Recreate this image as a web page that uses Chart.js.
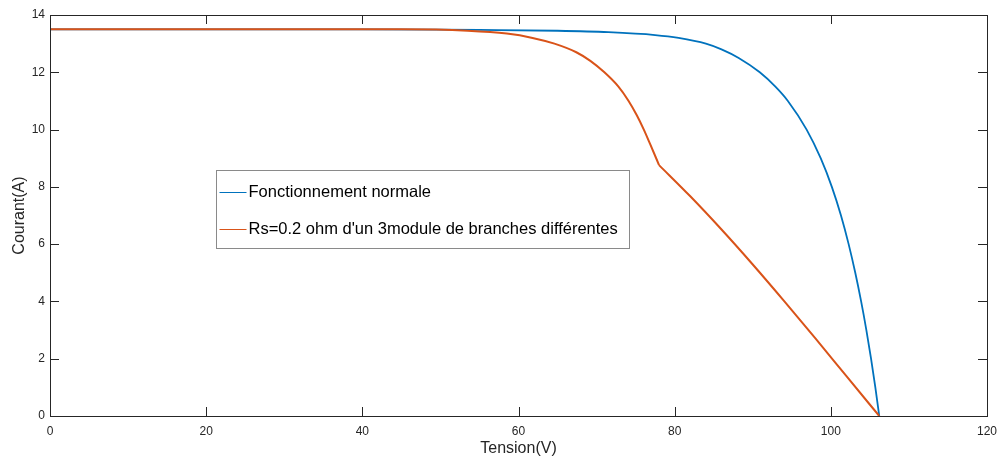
<!DOCTYPE html>
<html>
<head>
<meta charset="utf-8">
<script src="https://cdn.jsdelivr.net/npm/chart.js@4.4.1/dist/chart.umd.min.js"></script>
<style>
  html, body { margin: 0; padding: 0; background: #fff; }
</style>
</head>
<body>
<canvas id="ivChart" width="998" height="458"></canvas>
<script>
// I-V curves of the PV array: normal operation vs one module with Rs = 0.2 ohm
const normalVolts = [0, 20, 40, 50, 55, 65, 71.5, 77.5, 80.5, 84, 86, 88.2, 90.9, 92.9, 94.5, 96.9, 98.7, 100.13, 101.3, 102.28, 103.13, 103.88, 104.55, 105.15, 105.7, 106.2];
const normalAmps  = [13.5, 13.5, 13.5, 13.49, 13.48, 13.45, 13.4, 13.3, 13.2, 13.0, 12.8, 12.5, 12.0, 11.5, 11.0, 10.0, 9.0, 8.0, 7.0, 6.0, 5.0, 4.0, 3.0, 2.0, 1.0, 0];

const faultVolts = [0, 20, 40, 45, 53.5, 58.5, 61.8, 64.6, 67.4, 69.2, 71, 72.8, 74.1, 75.15, 76.05, 76.85, 78, 82, 86, 90, 94, 98, 102, 106.2];
const faultAmps  = [13.5, 13.5, 13.5, 13.5, 13.45, 13.35, 13.2, 13.0, 12.7, 12.4, 12.0, 11.5, 11.0, 10.5, 10.0, 9.5, 8.76, 7.67, 6.51, 5.29, 4.02, 2.72, 1.39, 0];
const kneeIndex = 16; // the bypass diode kicks in here

const xTicks = [0, 20, 40, 60, 80, 100, 120];
const yTicks = [0, 2, 4, 6, 8, 10, 12, 14];

const blue = '#0072BD';
const orange = '#D95319';
const axisColor = '#262626';
const font = '"Liberation Sans", Arial, sans-serif';

const toPoints = (xs, ys) => xs.map((v, i) => ({ x: v, y: ys[i] }));
const faultPts = toPoints(faultVolts, faultAmps);

// box + inward ticks on all four sides, matlab style
const frame = {
  id: 'frame',
  afterDatasetsDraw(chart) {
    const { ctx, chartArea: a, scales: { x, y } } = chart;
    const len = 9;
    ctx.save();
    ctx.strokeStyle = axisColor;
    ctx.lineWidth = 1;
    ctx.beginPath();
    xTicks.forEach(v => {
      const px = Math.round(x.getPixelForValue(v)) + 0.5;
      ctx.moveTo(px, a.bottom); ctx.lineTo(px, a.bottom - len);
      ctx.moveTo(px, a.top); ctx.lineTo(px, a.top + len);
    });
    yTicks.forEach(v => {
      const py = Math.round(y.getPixelForValue(v)) + 0.5;
      ctx.moveTo(a.left, py); ctx.lineTo(a.left + len, py);
      ctx.moveTo(a.right, py); ctx.lineTo(a.right - len, py);
    });
    ctx.stroke();
    ctx.strokeRect(Math.round(a.left) + 0.5, Math.round(a.top) + 0.5,
      Math.round(a.width), Math.round(a.height));
    ctx.restore();
  }
};

// legend box floating inside the plot area
const boxLegend = {
  id: 'boxLegend',
  afterDraw(chart, args, opts) {
    const { ctx, chartArea: a } = chart;
    const left = Math.round(a.left + a.width * opts.x) + 0.5;
    const top = Math.round(a.top + a.height * opts.y) + 0.5;
    const items = chart.data.datasets.filter(d => !d.noLegend);
    ctx.save();
    ctx.fillStyle = '#fff';
    ctx.fillRect(left, top, opts.width, opts.height);
    ctx.strokeStyle = '#8a8a8a';
    ctx.lineWidth = 1;
    ctx.strokeRect(left, top, opts.width, opts.height);
    ctx.font = '16.5px ' + font;
    ctx.textBaseline = 'middle';
    items.forEach((d, i) => {
      const cy = Math.round(top + 21 + i * 37.5) + 0.5;
      ctx.strokeStyle = d.borderColor;
      ctx.beginPath();
      ctx.moveTo(left + 3, cy);
      ctx.lineTo(left + 30, cy);
      ctx.stroke();
      ctx.fillStyle = '#000';
      ctx.fillText(d.label, left + 32, cy);
    });
    ctx.restore();
  }
};

new Chart(document.getElementById('ivChart'), {
  type: 'line',
  data: {
    datasets: [
      {
        label: 'Fonctionnement normale',
        data: toPoints(normalVolts, normalAmps),
        borderColor: blue,
        borderWidth: 1.8,
        cubicInterpolationMode: 'monotone',
        pointRadius: 0,
        order: 3
      },
      {
        label: "Rs=0.2 ohm d'un 3module de branches différentes",
        data: faultPts.slice(0, kneeIndex + 1),
        borderColor: orange,
        borderWidth: 2,
        cubicInterpolationMode: 'monotone',
        pointRadius: 0,
        order: 1
      },
      {
        label: 'fault-lower',
        noLegend: true,
        data: faultPts.slice(kneeIndex),
        borderColor: orange,
        borderWidth: 2,
        cubicInterpolationMode: 'monotone',
        pointRadius: 0,
        order: 2
      }
    ]
  },
  options: {
    responsive: false,
    animation: false,
    layout: { padding: { top: 15, right: 11, left: 0, bottom: 0 } },
    plugins: {
      legend: { display: false },
      tooltip: { enabled: false },
      boxLegend: { x: 0.1772, y: 0.3865, width: 413, height: 78 }
    },
    scales: {
      x: {
        type: 'linear',
        min: 0,
        max: 120,
        afterFit: s => { s.height = 42; s.paddingLeft = 0; s.paddingRight = 0; },
        afterBuildTicks: s => { s.ticks = xTicks.map(v => ({ value: v })); },
        grid: { display: false, drawTicks: false },
        border: { display: false },
        ticks: { color: axisColor, padding: 8, font: { family: font, size: 12 } },
        title: { display: true, text: 'Tension(V)', color: axisColor, padding: 0,
          font: { family: font, size: 16 } }
      },
      y: {
        min: 0,
        max: 14,
        afterFit: s => { s.width = 50; s.paddingTop = 0; s.paddingBottom = 0; },
        afterBuildTicks: s => { s.ticks = yTicks.map(v => ({ value: v })); },
        grid: { display: false, drawTicks: false },
        border: { display: false },
        ticks: { color: axisColor, padding: 5, font: { family: font, size: 12 } },
        title: { display: true, text: 'Courant(A)', color: axisColor, padding: { top: 10, bottom: 0 },
          font: { family: font, size: 16 } }
      }
    }
  },
  plugins: [frame, boxLegend]
});
</script>
</body>
</html>
